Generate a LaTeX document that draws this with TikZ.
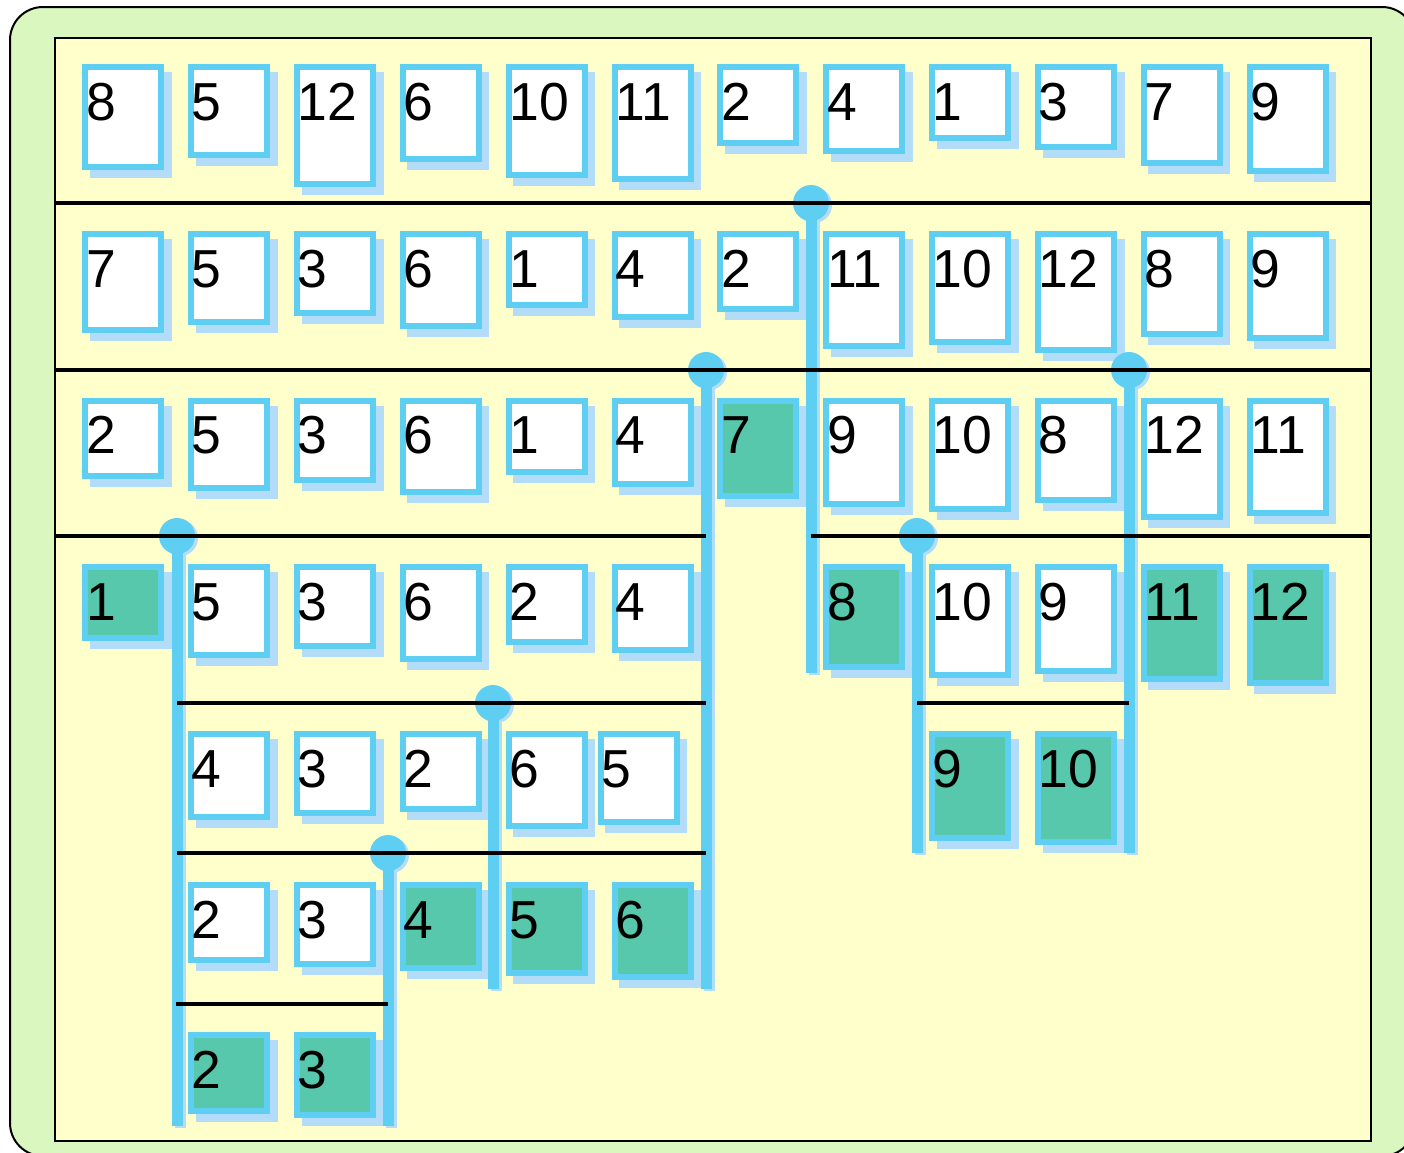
\documentclass[tikz,border=0pt]{standalone}
\usepackage{fontspec}
\setmainfont{Liberation Sans}
\definecolor{cardblue}{HTML}{5ECEF3}
\definecolor{shadowblue}{HTML}{B3DCF9}
\definecolor{donegreen}{HTML}{57C8AB}
\definecolor{paper}{HTML}{FFFFCC}
\definecolor{framegreen}{HTML}{DAF7BF}
\tikzset{
  cardbox/.style={draw=cardblue, line width=6pt, minimum width=76pt, inner sep=0pt, anchor=north west},
  num/.style={font=\fontsize{53.5}{60}\selectfont, inner sep=0pt, anchor=base west},
  divider/.style={line width=3.5pt, black},
  pivotbar/.style={cardblue, line width=11pt},
  pivotshadow/.style={shadowblue, line width=11pt},
}
\newcommand\card[5]{%
  \pgfmathsetmacro\cardh{73+4.1*#4}%
  \fill[shadowblue] (#2+7.5,#3+8) rectangle ++(82,\cardh);
  \node[cardbox, fill=#5, minimum height=\cardh-6] (#1) at (#2,#3) {};
  \node[num] (#1n) at (#2+3.5,#3+56) {#4};
}
\newcommand\pivot[4]{%
  \coordinate (#1t) at (#2,#3);
  \coordinate (#1b) at (#2,#4);
  \fill[shadowblue] (#2+3,#3+2) circle (18);
  \draw[pivotshadow] (#2+3,#3) -- (#2+3,#4+2);
  \fill[cardblue] (#1t) circle (18);
  \draw[pivotbar] (#1t) -- (#1b);
}
\begin{document}
\begin{tikzpicture}[x=1pt,y=-1pt]
\useasboundingbox (0,0) rectangle (1404,1152);
\clip (0,0) rectangle (1404,1152);
\draw[fill=framegreen, line width=2pt, rounded corners=33pt] (10,7) rectangle (1415,1156);
\draw[fill=paper, line width=2pt] (55,37.5) rectangle (1370.5,1140.5);
% columns
\def\cA{82.3}\def\cB{188.2}\def\cC{294}\def\cD{399.9}\def\cE{505.7}\def\cF{611.6}
\def\cG{717.4}\def\cH{823.3}\def\cI{929.1}\def\cJ{1035}\def\cK{1140.8}\def\cL{1246.7}
% row 1
\def\r{64.3}
\card{a1}{\cA}{\r}{8}{white}
\card{a2}{\cB}{\r}{5}{white}
\card{a3}{\cC}{\r}{12}{white}
\card{a4}{\cD}{\r}{6}{white}
\card{a5}{\cE}{\r}{10}{white}
\card{a6}{\cF}{\r}{11}{white}
\card{a7}{\cG}{\r}{2}{white}
\card{a8}{\cH}{\r}{4}{white}
\card{a9}{\cI}{\r}{1}{white}
\card{a10}{\cJ}{\r}{3}{white}
\card{a11}{\cK}{\r}{7}{white}
\card{a12}{\cL}{\r}{9}{white}
% row 2
\def\r{231}
\card{b1}{\cA}{\r}{7}{white}
\card{b2}{\cB}{\r}{5}{white}
\card{b3}{\cC}{\r}{3}{white}
\card{b4}{\cD}{\r}{6}{white}
\card{b5}{\cE}{\r}{1}{white}
\card{b6}{\cF}{\r}{4}{white}
\card{b7}{\cG}{\r}{2}{white}
\card{b8}{\cH}{\r}{11}{white}
\card{b9}{\cI}{\r}{10}{white}
\card{b10}{\cJ}{\r}{12}{white}
\card{b11}{\cK}{\r}{8}{white}
\card{b12}{\cL}{\r}{9}{white}
% row 3
\def\r{397.5}
\card{c1}{\cA}{\r}{2}{white}
\card{c2}{\cB}{\r}{5}{white}
\card{c3}{\cC}{\r}{3}{white}
\card{c4}{\cD}{\r}{6}{white}
\card{c5}{\cE}{\r}{1}{white}
\card{c6}{\cF}{\r}{4}{white}
\card{c7}{\cG}{\r}{7}{donegreen}
\card{c8}{\cH}{\r}{9}{white}
\card{c9}{\cI}{\r}{10}{white}
\card{c10}{\cJ}{\r}{8}{white}
\card{c11}{\cK}{\r}{12}{white}
\card{c12}{\cL}{\r}{11}{white}
% row 4
\def\r{564}
\card{d1}{\cA}{\r}{1}{donegreen}
\card{d2}{\cB}{\r}{5}{white}
\card{d3}{\cC}{\r}{3}{white}
\card{d4}{\cD}{\r}{6}{white}
\card{d5}{\cE}{\r}{2}{white}
\card{d6}{\cF}{\r}{4}{white}
\card{d8}{\cH}{\r}{8}{donegreen}
\card{d9}{\cI}{\r}{10}{white}
\card{d10}{\cJ}{\r}{9}{white}
\card{d11}{\cK}{\r}{11}{donegreen}
\card{d12}{\cL}{\r}{12}{donegreen}
% row 5
\def\r{731}
\card{e2}{\cB}{\r}{4}{white}
\card{e3}{\cC}{\r}{3}{white}
\card{e4}{\cD}{\r}{2}{white}
\card{e5}{\cE}{\r}{6}{white}
\card{e6}{597.5}{\r}{5}{white}
\card{e9}{\cI}{\r}{9}{donegreen}
\card{e10}{\cJ}{\r}{10}{donegreen}
% row 6
\def\r{882}
\card{f2}{\cB}{\r}{2}{white}
\card{f3}{\cC}{\r}{3}{white}
\card{f4}{\cD}{\r}{4}{donegreen}
\card{f5}{\cE}{\r}{5}{donegreen}
\card{f6}{\cF}{\r}{6}{donegreen}
% row 7
\def\r{1032.3}
\card{g2}{\cB}{\r}{2}{donegreen}
\card{g3}{\cC}{\r}{3}{donegreen}
% pivots
\pivot{p1}{811}{203}{673}
\pivot{p2}{706}{370}{989}
\pivot{p3}{1129}{370}{853}
\pivot{p4}{177}{536}{1126}
\pivot{p5}{917}{536}{853}
\pivot{p6}{493}{703}{989}
\pivot{p7}{388}{853}{1126}
% dividers
\coordinate (L1) at (55,203);  \coordinate (R1) at (1370,203);
\coordinate (L2) at (55,370);  \coordinate (R2) at (1370,370);
\coordinate (L3) at (55,536);  \coordinate (R3) at (1370,536);
\draw[divider] (L1) -- (R1);
\draw[divider] (L2) -- (R2);
\draw[divider] (L3) -- (p2t |- L3);
\draw[divider] (p1t |- L3) -- (R3);
\draw[divider] (p4t |- p6t) -- (p2t |- p6t);
\draw[divider] (p5t |- p6t) -- (p3t |- p6t);
\draw[divider] (p4t |- p7t) -- (p2t |- p7t);
\draw[divider] (176,1004) -- (p7t |- 0,1004);
\end{tikzpicture}
\end{document}
